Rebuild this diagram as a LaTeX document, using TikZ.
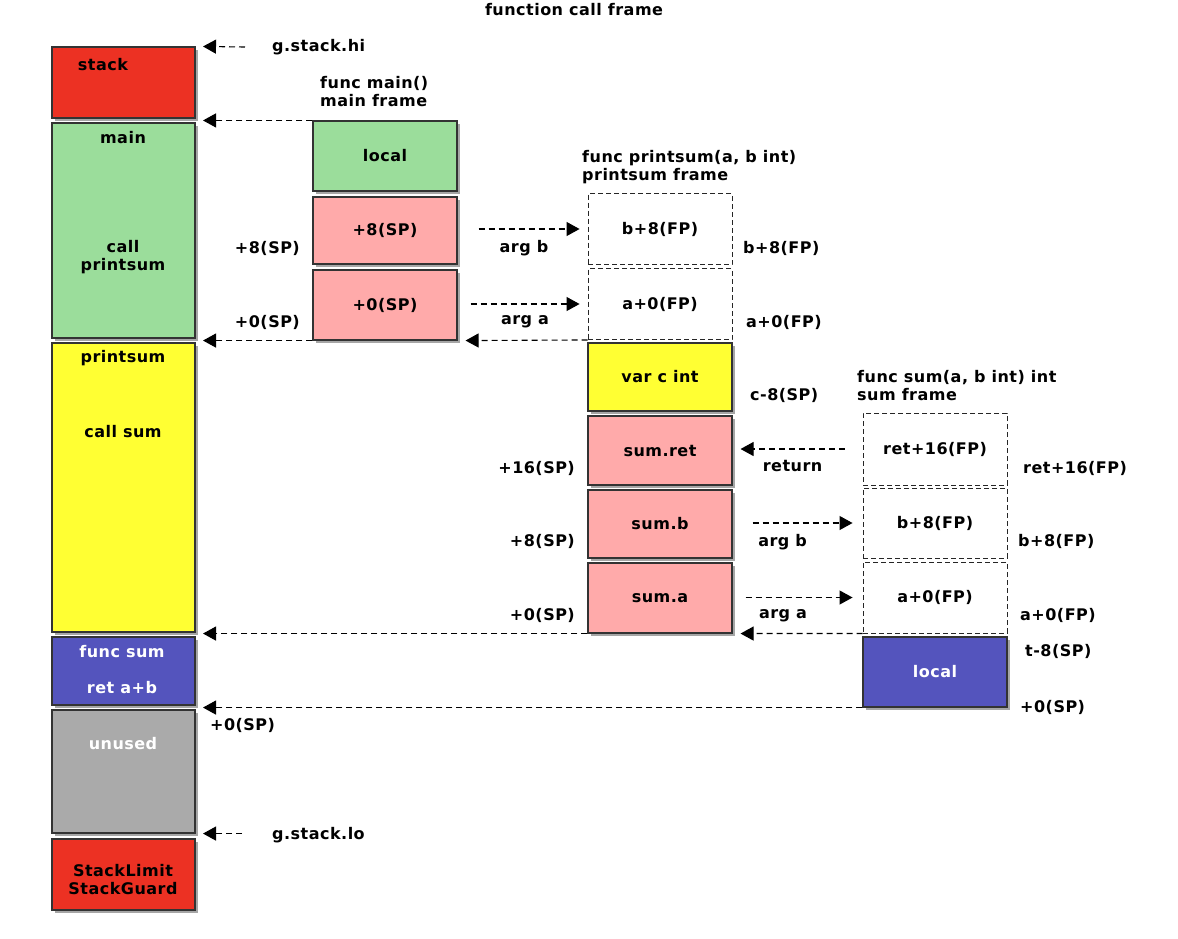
\documentclass[tikz,border=0pt]{standalone}
\usepackage{fontspec}
\setmainfont{DejaVu Sans}[BoldFont={DejaVu Sans Bold}, BoldFeatures={LetterSpace=3}]
\usetikzlibrary{arrows.meta,shadows}

\definecolor{stackred}{RGB}{236,49,35}
\definecolor{framegreen}{RGB}{155,221,155}
\definecolor{argpink}{RGB}{255,170,170}
\definecolor{varyellow}{RGB}{255,255,51}
\definecolor{sumblue}{RGB}{84,84,189}
\definecolor{unusedgray}{RGB}{170,170,170}

\begin{document}
\begin{tikzpicture}[
  x=1pt, y=-1pt,
  every node/.style={font=\fontsize{16}{18}\selectfont\bfseries},
  slot/.style={
    draw=black!80, line width=1.1pt, inner sep=0pt,
    minimum width=#1, minimum height=70pt,
    drop shadow={shadow xshift=2.5pt, shadow yshift=-2.5pt, opacity=0.35, fill=black}
  },
  slot/.default=144pt,
  stk/.style={slot=143pt, minimum height=#1},
  ghost/.style={
    draw=black!85, dashed, dash pattern=on 5pt off 3pt, line width=0.9pt,
    inner sep=0pt, minimum width=144pt, minimum height=71pt
  },
  lbl/.style={inner sep=0pt},
  darr/.style={
    dash pattern=on 6pt off 4pt, line width=1.1pt,
    -{Triangle[length=13pt, width=14pt]}
  },
]

% canvas
\useasboundingbox (0,0) rectangle (1178,938);

% Title
\node[lbl] at (574,10) {function call frame};

% Left column: the goroutine stack
\node[stk=71pt, fill=stackred] (stack) at (123.5,82.5) {};
\node[stk=215pt, fill=framegreen] (mainb) at (123.5,230.5) {};
\node[stk=289pt, fill=varyellow] (psb) at (123.5,487.5) {};
\node[stk=68pt, fill=sumblue] (sumb) at (123.5,671) {};
\node[stk=123pt, fill=unusedgray] (unused) at (123.5,771.5) {};
\node[stk=71pt, fill=stackred] (guard) at (123.5,874.5) {};

\node[lbl] at (103,65) {stack};
\node[lbl] at (123,138) {main};
\node[lbl, align=center] at (123,257) {call\\printsum};
\node[lbl] at (123,358) {printsum};
\node[lbl] at (123,432) {call sum};
\node[lbl, text=white] at (122,652) {func sum};
\node[lbl, text=white] at (122,688) {ret a+b};
\node[lbl, text=white] at (123,744) {unused};
\node[lbl, align=center] at (123,880) {StackLimit\\StackGuard};

% Arrow tips line up on this x
\coordinate (tipx) at (203,0);

% g.stack.hi / g.stack.lo
\node[lbl, anchor=west] (hi) at (272,47) {g.stack.hi};
\node[lbl, anchor=west] (lo) at (272,835) {g.stack.lo};
\draw[darr] ([xshift=-27pt]hi.west) -- (stack.north -| tipx);
\draw[darr] ([xshift=-30pt]lo.west |- unused.south) -- (unused.south -| tipx);

% main frame
\node[lbl, anchor=west, align=left] at (320,92) {func main()\\main frame};
\node[slot, fill=framegreen] (loc) at (385,156) {local};
\node[slot, fill=argpink, minimum height=67pt] (p8) at (385,230.5) {+8(SP)};
\node[slot, fill=argpink] (p0) at (385,305) {+0(SP)};
\node[lbl, anchor=east] at (300,248) {+8(SP)};
\node[lbl, anchor=east] at (300,322) {+0(SP)};

% printsum frame
\node[lbl, anchor=west, align=left] at (582,167) {func printsum(a, b int)\\printsum frame};
\node[ghost] (fb) at (660,229) {b+8(FP)};
\node[ghost] (fa) at (660,304) {a+0(FP)};
\node[slot, fill=varyellow, minimum height=68pt] (varc) at (660,377) {var c int};
\node[slot, fill=argpink, minimum height=69pt] (sret) at (660,450.5) {sum.ret};
\node[slot, fill=argpink, minimum height=68pt] (sb) at (660,524) {sum.b};
\node[slot, fill=argpink] (sa) at (660,598) {sum.a};
\node[lbl, anchor=west] at (743,248) {b+8(FP)};
\node[lbl, anchor=west] at (746,322) {a+0(FP)};
\node[lbl, anchor=west] at (750,395) {c-8(SP)};
\node[lbl, anchor=east] at (575,468) {+16(SP)};
\node[lbl, anchor=east] at (575,541) {+8(SP)};
\node[lbl, anchor=east] at (575,615) {+0(SP)};

% sum frame
\node[lbl, anchor=west, align=left] at (857,386) {func sum(a, b int) int\\sum frame};
\node[ghost, minimum height=72pt] (fret) at (935,449) {ret+16(FP)};
\node[ghost, minimum height=70pt] (fb2) at (935,523) {b+8(FP)};
\node[ghost] (fa2) at (935,597.5) {a+0(FP)};
\node[slot, fill=sumblue, text=white] (sloc) at (935,672) {local};
\node[lbl, anchor=west] at (1023,468) {ret+16(FP)};
\node[lbl, anchor=west] at (1018,541) {b+8(FP)};
\node[lbl, anchor=west] at (1020,615) {a+0(FP)};
\node[lbl, anchor=west] at (1025,651) {t-8(SP)};
\node[lbl, anchor=west] at (1020,707) {+0(SP)};
\node[lbl, anchor=west] at (210,725) {+0(SP)};

% frame boundaries
\draw[darr] (loc.north west) -- (loc.north west -| tipx);
\draw[darr] (p0.south west) -- (p0.south west -| tipx);
\draw[darr] (fa.south west) -- ([xshift=8pt]p0.south east);
\draw[darr] (sa.south west) -- (sa.south west -| tipx);
\draw[darr] (fa2.south west) -- ([xshift=8pt]sa.south east);
\draw[darr] (sloc.south west) -- (sloc.south west -| tipx);

% arguments and return value
\draw[darr] ([xshift=21pt]p8.east |- fb.west) -- ([xshift=-8pt]fb.west)
  node[lbl, pos=0.45, below=11pt] {arg b};
\draw[darr] ([xshift=13pt]p0.east |- fa.west) -- ([xshift=-8pt]fa.west)
  node[lbl, pos=0.5, below=11pt] {arg a};
\draw[darr] ([xshift=-18pt]fret.west) -- ([xshift=8pt]sret.east |- fret.west)
  node[lbl, pos=0.5, below=11pt] {return};
\draw[darr] ([xshift=20pt]sb.east |- fb2.west) -- ([xshift=-10pt]fb2.west)
  node[lbl, pos=0.3, below=11pt] {arg b};
\draw[darr] ([xshift=13pt]sa.east |- fa2.west) -- ([xshift=-10pt]fa2.west)
  node[lbl, pos=0.35, below=11pt] {arg a};

\end{tikzpicture}
\end{document}
